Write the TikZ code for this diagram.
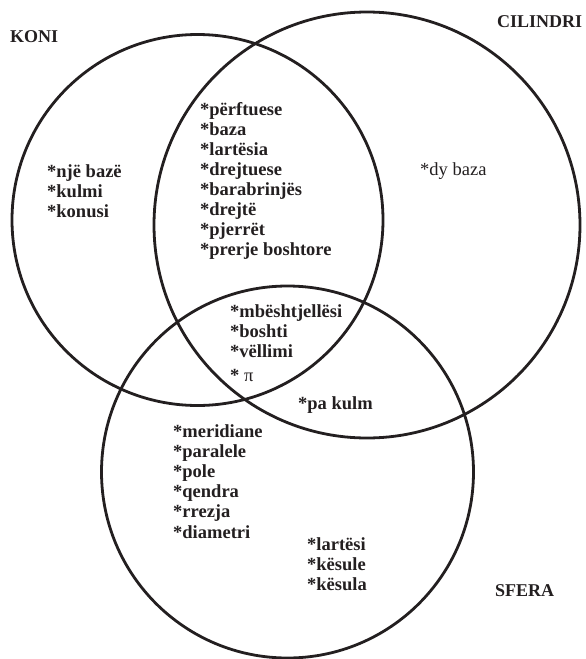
\documentclass[tikz,border=0pt]{standalone}
\usepackage{fontspec}
\setmainfont{Liberation Serif}
\definecolor{ink}{HTML}{231F20}
\begin{document}
\begin{tikzpicture}[x=1pt,y=-1pt,
  ring/.style={draw=ink,line width=2.8pt},
  lbl/.style={anchor=base west,inner sep=0pt,text=ink,font=\fontsize{18.5}{20}\selectfont\bfseries},
  lblr/.style={lbl,font=\fontsize{18.5}{20}\selectfont},
  title/.style={anchor=base west,inner sep=0pt,text=ink,font=\fontsize{18}{20}\selectfont\bfseries}]
\useasboundingbox (0,0) rectangle (586,659);

% the three sets
\draw[ring] (197.5,220) circle[radius=185.5pt];
\draw[ring] (367,225) circle[radius=213pt];
\draw[ring] (287.5,472) circle[radius=186pt];

% set names
\node[title] (koni) at (10,42) {KONI};
\node[title] (cil) at (497,27) {CILINDRI};
\node[title] (sfera) at (495,596) {SFERA};

% cone only
\foreach \t [count=\i] in {*një bazë,*kulmi,*konusi}
  \node[lbl] (k\i) at (47,177+20*\i-20) {\t};

% cone and cylinder
\foreach \t [count=\i] in {*përftuese,*baza,*lartësia,*drejtuese,*barabrinjës,*drejtë,*pjerrët,*prerje boshtore}
  \node[lbl] (kc\i) at (200,115+20*\i-20) {\t};

% cylinder only
\node[lblr] (c1) at (420,175) {*dy baza};

% all three
\foreach \t [count=\i] in {*mbështjellësi,*boshti,*vëllimi}
  \node[lbl] (kcs\i) at (230,317+20*\i-20) {\t};
\node[lbl] (kcs4) at (230,381) {* {\normalfont π}};

% cylinder and sphere
\node[lbl] (cs1) at (298,409) {*pa kulm};

% sphere only
\foreach \t [count=\i] in {*meridiane,*paralele,*pole,*qendra,*rrezja,*diametri}
  \node[lbl] (s\i) at (173,437+20.2*\i-20.2) {\t};
\foreach \t [count=\i] in {*lartësi,*kësule,*kësula}
  \node[lbl] (t\i) at (307,550+20*\i-20) {\t};
\end{tikzpicture}
\end{document}
